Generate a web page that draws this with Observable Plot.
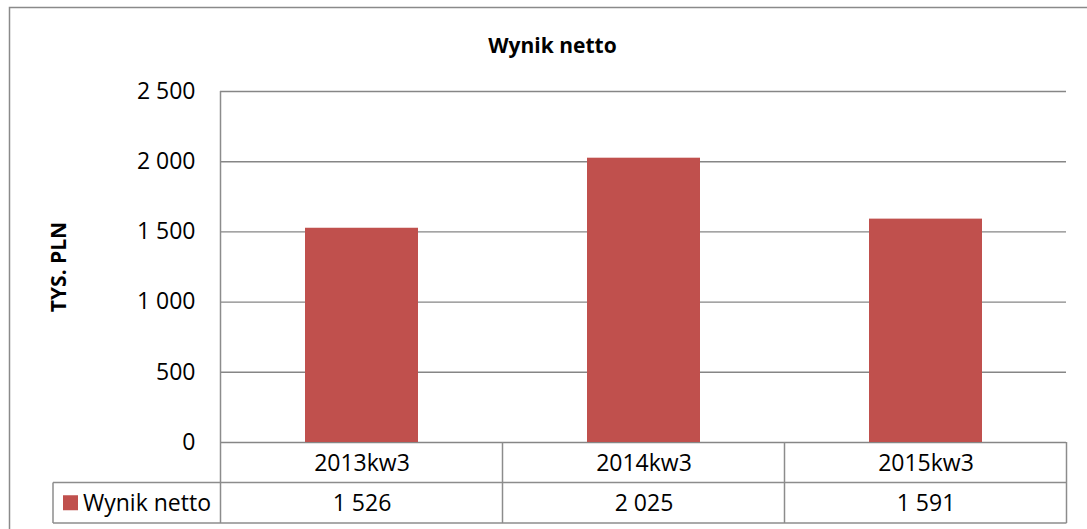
<!DOCTYPE html>
<html>
<head>
<meta charset="utf-8">
<script src="https://cdn.jsdelivr.net/npm/d3@7"></script>
<script src="https://cdn.jsdelivr.net/npm/@observablehq/plot@0.6"></script>
<style>
  html, body { margin: 0; padding: 0; background: #fff; }
  #chart svg { display: block; }
</style>
</head>
<body>
<div id="chart"></div>
<script>
const categories = ["2013kw3", "2014kw3", "2015kw3"];
const values = [1526, 2025, 1591];
const yTicks = [0, 500, 1000, 1500, 2000, 2500];
const seriesName = "Wynik netto";
const title = "Wynik netto";
const yLabel = "TYS. PLN";

const data = categories.map((c, i) => ({cat: c, value: values[i]}));
const fmt = d => d3.format(",")(d).replace(/,/g, " ");
const FONT = "'Open Sans', sans-serif";
const GRID = "#868686";
const BAR = "#C0504D";
const FS = 23;

const plot = Plot.plot({
  width: 1087,
  height: 529,
  marginLeft: 220,
  marginRight: 21,
  marginTop: 91,
  marginBottom: 87,
  style: {fontFamily: FONT, fontSize: FS + "px", color: "#000", background: "#fff"},
  x: {domain: categories, paddingInner: 0.6, paddingOuter: 0.3, axis: null},
  y: {domain: [0, 2500], axis: null},
  marks: [
    Plot.ruleY(yTicks, {stroke: GRID, strokeWidth: 1.4}),
    Plot.barY(data, {x: "cat", y: "value", fill: BAR}),
    Plot.axisY({ticks: yTicks, tickSize: 0, tickPadding: 25, tickFormat: fmt, fontSize: FS, label: null}),
    Plot.text([yLabel], {text: d => d, frameAnchor: "left", textAnchor: "middle", rotate: -90, dx: -161, fontWeight: "bold", fontSize: 21}),
    Plot.text([title], {text: d => d, frameAnchor: "top", dx: -91, dy: -53, fontWeight: "bold", fontSize: 21}),
    Plot.text(data, {x: "cat", y: 0, dy: 21, text: "cat", fontSize: FS}),
    Plot.text(data, {x: "cat", y: 0, dy: 61, text: d => fmt(d.value), fontSize: FS})
  ]
});

document.getElementById("chart").appendChild(plot);

// Chart frame and data-table grid built from the plot's own scales
const svg = d3.select(plot);
const xs = plot.scale("x");
const ys = plot.scale("y");
const step = xs.step;
const pad = (step - xs.bandwidth) / 2;
const bounds = categories.map(c => xs.apply(c) - pad);
bounds.push(xs.apply(categories[categories.length - 1]) + xs.bandwidth + pad);
const left = bounds[0], right = bounds[bounds.length - 1];
const y0 = ys.apply(0), yTop = ys.apply(2500);
const row = 40.5;
const y1 = y0 + row, y2 = y0 + 2 * row;
const legendLeft = 53;

const g = svg.append("g").attr("stroke", "#8c8c8c").attr("stroke-width", 1.5).attr("fill", "none");
g.append("rect").attr("x", 9.5).attr("y", 7.5).attr("width", 1200).attr("height", 700).attr("stroke", "#8a8a8a");
g.append("line").attr("x1", left).attr("x2", left).attr("y1", yTop).attr("y2", y2);
bounds.slice(1).forEach(b => g.append("line").attr("x1", b).attr("x2", b).attr("y1", y0).attr("y2", y2));
g.append("line").attr("x1", legendLeft).attr("x2", right).attr("y1", y1).attr("y2", y1);
g.append("line").attr("x1", legendLeft).attr("x2", right).attr("y1", y2).attr("y2", y2);
g.append("line").attr("x1", legendLeft).attr("x2", legendLeft).attr("y1", y1).attr("y2", y2);

// legend key in table
svg.append("rect").attr("x", 63).attr("y", (y1 + y2) / 2 - 7.5).attr("width", 15).attr("height", 15).attr("fill", BAR);
svg.append("text").attr("x", 83).attr("y", (y1 + y2) / 2).attr("dy", "0.35em")
  .attr("text-anchor", "start")
  .attr("font-family", FONT).attr("font-size", FS).attr("fill", "#000").text(seriesName);
</script>
</body>
</html>
